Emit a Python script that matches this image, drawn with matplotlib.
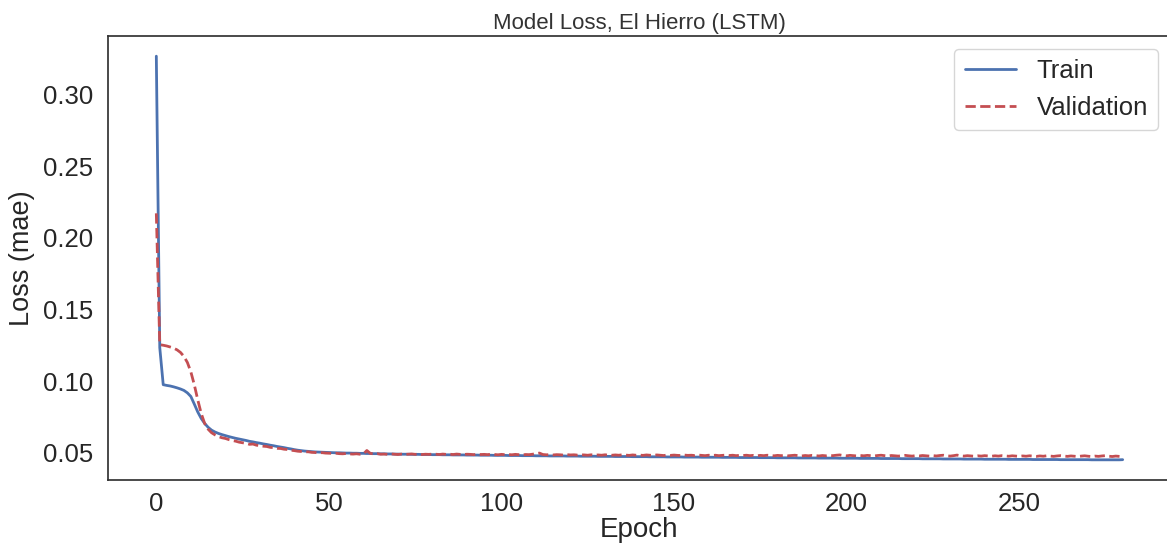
import matplotlib
matplotlib.use("Agg")
import matplotlib.pyplot as plt
import seaborn as sns
import numpy as np

train = [
    0.3266, 0.1233, 0.0975, 0.0970, 0.0966, 0.0960, 0.0953, 0.0945, 0.0935, 0.0918,
    0.0893, 0.0840, 0.0785, 0.0740, 0.0705, 0.0678, 0.0658, 0.0645, 0.0635, 0.0627,
    0.0620, 0.0613, 0.0607, 0.0601, 0.0596, 0.0591, 0.0586, 0.0580, 0.0576, 0.0571,
    0.0567, 0.0562, 0.0558, 0.0553, 0.0549, 0.0544, 0.0540, 0.0536, 0.0531, 0.0527,
    0.0522, 0.0518, 0.0515, 0.0512, 0.0510, 0.0508, 0.0506, 0.0505, 0.0504, 0.0503,
    0.0502, 0.0501, 0.0500, 0.0500, 0.0499, 0.0498, 0.0498, 0.0497, 0.0497, 0.0496,
    0.0496, 0.0495, 0.0495, 0.0494, 0.0494, 0.0493, 0.0493, 0.0492, 0.0492, 0.0491,
    0.0491, 0.0490, 0.0490, 0.0490, 0.0489, 0.0489, 0.0489, 0.0488, 0.0488, 0.0488,
    0.0487, 0.0487, 0.0487, 0.0486, 0.0486, 0.0486, 0.0485, 0.0485, 0.0485, 0.0485,
    0.0484, 0.0484, 0.0484, 0.0484, 0.0483, 0.0483, 0.0483, 0.0483, 0.0482, 0.0482,
    0.0482, 0.0482, 0.0481, 0.0481, 0.0481, 0.0481, 0.0480, 0.0480, 0.0480, 0.0480,
    0.0479, 0.0479, 0.0479, 0.0479, 0.0478, 0.0478, 0.0478, 0.0478, 0.0478, 0.0477,
    0.0477, 0.0477, 0.0477, 0.0476, 0.0476, 0.0476, 0.0476, 0.0476, 0.0475, 0.0475,
    0.0475, 0.0475, 0.0475, 0.0474, 0.0474, 0.0474, 0.0474, 0.0474, 0.0473, 0.0473,
    0.0473, 0.0473, 0.0473, 0.0472, 0.0472, 0.0472, 0.0472, 0.0472, 0.0471, 0.0471,
    0.0471, 0.0471, 0.0471, 0.0470, 0.0470, 0.0470, 0.0470, 0.0470, 0.0469, 0.0469,
    0.0469, 0.0469, 0.0469, 0.0469, 0.0468, 0.0468, 0.0468, 0.0468, 0.0468, 0.0467,
    0.0467, 0.0467, 0.0467, 0.0467, 0.0467, 0.0466, 0.0466, 0.0466, 0.0466, 0.0466,
    0.0465, 0.0465, 0.0465, 0.0465, 0.0465, 0.0465, 0.0464, 0.0464, 0.0464, 0.0464,
    0.0464, 0.0464, 0.0463, 0.0463, 0.0463, 0.0463, 0.0463, 0.0463, 0.0462, 0.0462,
    0.0462, 0.0462, 0.0462, 0.0462, 0.0461, 0.0461, 0.0461, 0.0461, 0.0461, 0.0461,
    0.0460, 0.0460, 0.0460, 0.0460, 0.0460, 0.0460, 0.0459, 0.0459, 0.0459, 0.0459,
    0.0459, 0.0459, 0.0458, 0.0458, 0.0458, 0.0458, 0.0458, 0.0458, 0.0457, 0.0457,
    0.0457, 0.0457, 0.0457, 0.0457, 0.0456, 0.0456, 0.0456, 0.0456, 0.0456, 0.0456,
    0.0455, 0.0455, 0.0455, 0.0455, 0.0455, 0.0455, 0.0455, 0.0454, 0.0454, 0.0454,
    0.0454, 0.0454, 0.0454, 0.0454, 0.0453, 0.0453, 0.0453, 0.0453, 0.0453, 0.0453,
    0.0453, 0.0453, 0.0452, 0.0452, 0.0452, 0.0452, 0.0452, 0.0452, 0.0452, 0.0452,
    0.0452, 0.0451, 0.0451, 0.0451, 0.0451, 0.0451, 0.0451, 0.0451, 0.0451, 0.0451,
    0.0452,
]

validation = [
    0.2170, 0.1254, 0.1250, 0.1245, 0.1238, 0.1230, 0.1218, 0.1200, 0.1172, 0.1130,
    0.1065, 0.0975, 0.0870, 0.0775, 0.0705, 0.0665, 0.0640, 0.0625, 0.0613, 0.0605,
    0.0600, 0.0592, 0.0586, 0.0581, 0.0574, 0.0570, 0.0566, 0.0559, 0.0561, 0.0553,
    0.0550, 0.0546, 0.0544, 0.0538, 0.0536, 0.0531, 0.0530, 0.0525, 0.0523, 0.0518,
    0.0515, 0.0511, 0.0509, 0.0506, 0.0507, 0.0503, 0.0502, 0.0499, 0.0501, 0.0498,
    0.0497, 0.0496, 0.0497, 0.0494, 0.0493, 0.0495, 0.0492, 0.0491, 0.0493, 0.0490,
    0.0492, 0.0516, 0.0496, 0.0492, 0.0494, 0.0490, 0.0491, 0.0489, 0.0492, 0.0490,
    0.0488, 0.0491, 0.0489, 0.0490, 0.0492, 0.0489, 0.0491, 0.0488, 0.0490, 0.0489,
    0.0491, 0.0490, 0.0488, 0.0491, 0.0489, 0.0490, 0.0488, 0.0491, 0.0489, 0.0488,
    0.0490, 0.0489, 0.0487, 0.0490, 0.0488, 0.0489, 0.0487, 0.0490, 0.0488, 0.0486,
    0.0489, 0.0487, 0.0488, 0.0486, 0.0489, 0.0487, 0.0485, 0.0488, 0.0487, 0.0490,
    0.0494, 0.0498, 0.0488, 0.0486, 0.0487, 0.0485, 0.0487, 0.0486, 0.0484, 0.0487,
    0.0485, 0.0486, 0.0484, 0.0486, 0.0485, 0.0483, 0.0486, 0.0484, 0.0485, 0.0483,
    0.0486, 0.0484, 0.0483, 0.0485, 0.0483, 0.0486, 0.0484, 0.0482, 0.0485, 0.0483,
    0.0484, 0.0482, 0.0485, 0.0483, 0.0482, 0.0485, 0.0483, 0.0481, 0.0484, 0.0482,
    0.0484, 0.0482, 0.0481, 0.0484, 0.0482, 0.0483, 0.0481, 0.0484, 0.0482, 0.0480,
    0.0483, 0.0481, 0.0483, 0.0480, 0.0482, 0.0484, 0.0481, 0.0483, 0.0480, 0.0482,
    0.0481, 0.0483, 0.0480, 0.0482, 0.0479, 0.0482, 0.0480, 0.0483, 0.0481, 0.0479,
    0.0482, 0.0480, 0.0482, 0.0479, 0.0481, 0.0483, 0.0480, 0.0478, 0.0481, 0.0479,
    0.0482, 0.0480, 0.0478, 0.0481, 0.0479, 0.0482, 0.0480, 0.0483, 0.0485, 0.0481,
    0.0479, 0.0482, 0.0480, 0.0478, 0.0481, 0.0479, 0.0482, 0.0480, 0.0478, 0.0481,
    0.0483, 0.0480, 0.0478, 0.0481, 0.0479, 0.0477, 0.0480, 0.0482, 0.0479, 0.0477,
    0.0480, 0.0478, 0.0481, 0.0479, 0.0477, 0.0480, 0.0478, 0.0481, 0.0483, 0.0479,
    0.0477, 0.0480, 0.0484, 0.0479, 0.0477, 0.0480, 0.0478, 0.0476, 0.0479, 0.0477,
    0.0480, 0.0478, 0.0476, 0.0479, 0.0477, 0.0480, 0.0478, 0.0476, 0.0479, 0.0477,
    0.0475, 0.0478, 0.0476, 0.0479, 0.0477, 0.0475, 0.0478, 0.0476, 0.0479, 0.0477,
    0.0475, 0.0478, 0.0480, 0.0477, 0.0475, 0.0478, 0.0476, 0.0474, 0.0477, 0.0479,
    0.0476, 0.0474, 0.0477, 0.0475, 0.0478, 0.0480, 0.0476, 0.0474, 0.0477, 0.0475,
    0.0473,
]

epochs = list(range(len(train)))

sns.set_style("white")
plt.rcParams['font.family'] = ['Liberation Sans', 'DejaVu Sans']

fig = plt.figure(figsize=(11.67, 5.46), dpi=100)
ax = fig.add_axes([108 / 1167, 66 / 546, 1063 / 1167, 444 / 546])

blue = (0.298, 0.447, 0.690)
red = (0.769, 0.306, 0.322)
ax.plot(epochs, train, color=blue, lw=2.0, label="Train")
ax.plot(epochs, validation, color=red, lw=2.0, ls="--", label="Validation")

ax.set_title("Model Loss, El Hierro (LSTM)", fontsize=16, color="#333333", pad=5)
ax.set_xlabel("Epoch", fontsize=20, color="#262626", labelpad=1)
ax.set_ylabel("Loss (mae)", fontsize=19.5, color="#262626", labelpad=6)
ax.tick_params(axis="y", labelsize=18.5, colors="#262626", pad=7)
ax.tick_params(axis="x", labelsize=18.5, colors="#262626", pad=5)
ax.set_yticks([0.05, 0.10, 0.15, 0.20, 0.25, 0.30])
ax.set_xticks([0, 50, 100, 150, 200, 250])
ax.legend(loc="upper right", fontsize=18.5)
for s in ax.spines.values():
    s.set_linewidth(1.25)
    s.set_color("#333333")

fig.savefig("out.png", dpi=100)
